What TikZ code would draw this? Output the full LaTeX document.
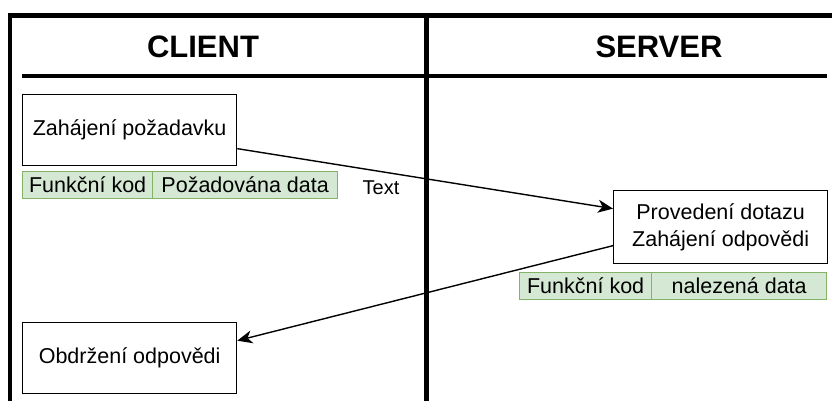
\documentclass[tikz,border=0pt]{standalone}
\usepackage{fontspec}
\setmainfont{Liberation Sans}
\usetikzlibrary{arrows.meta,calc}
\definecolor{cellfill}{HTML}{D5E8D4}
\definecolor{cellline}{HTML}{82B366}
\begin{document}
\begin{tikzpicture}[x=1pt,y=-1pt,
  lane/.style={line width=4.5pt, line join=miter},
  stepbox/.style={draw, line width=1.3pt, anchor=north west, inner sep=0pt,
    font=\fontsize{21.5}{27}\selectfont, align=center},
  cell/.style={draw=cellline, fill=cellfill, line width=1.3pt, anchor=north west,
    inner sep=0pt, minimum height=27pt, font=\fontsize{21.5}{25}\selectfont},
  msg/.style={line width=1.4pt, -{Stealth[length=15pt,width=13pt,inset=4.5pt]}},
  head/.style={font=\fontsize{31}{37}\selectfont\bfseries}]
\useasboundingbox (0,0) rectangle (832,401);

% swimlane frame
\draw[lane] (10,401) -- (10,15.5) -- (832,15.5);
\draw[lane] (426.5,13.5) -- (426.5,401);
\draw[lane] (22,76) -- (827,76);

% lane headers
\node[head] (client) at (203,46.5) {CLIENT};
\node[head] (server) at (659,46.5) {SERVER};

% client side
\node[stepbox, minimum width=214pt, minimum height=71pt] (req) at (22,94) {Zahájení požadavku};
\node[cell, minimum width=130pt] (reqcode) at (22,171) {Funkční kod};
\node[cell, minimum width=185pt] (reqdata) at (152,171) {Požadována data};
\node[stepbox, minimum width=214pt, minimum height=71pt] (recv) at (22,322) {Obdržení odpovědi};

% server side
\node[stepbox, minimum width=214pt, minimum height=73pt] (proc) at (613,190) {Provedení dotazu\\Zahájení odpovědi};
\node[cell, minimum width=132pt] (respcode) at (519,272) {Funkční kod};
\node[cell, minimum width=175pt] (respdata) at (651,272) {nalezená data};

% messages
\draw[msg] ([yshift=-18.5pt]req.east) -- ([yshift=18.5pt]proc.west);
\node[font=\fontsize{20}{24}\selectfont] (label) at (381,188) {Text};
\draw[msg] ([yshift=-18.5pt]proc.west) -- ([yshift=17.5pt]recv.east);
\end{tikzpicture}
\end{document}
